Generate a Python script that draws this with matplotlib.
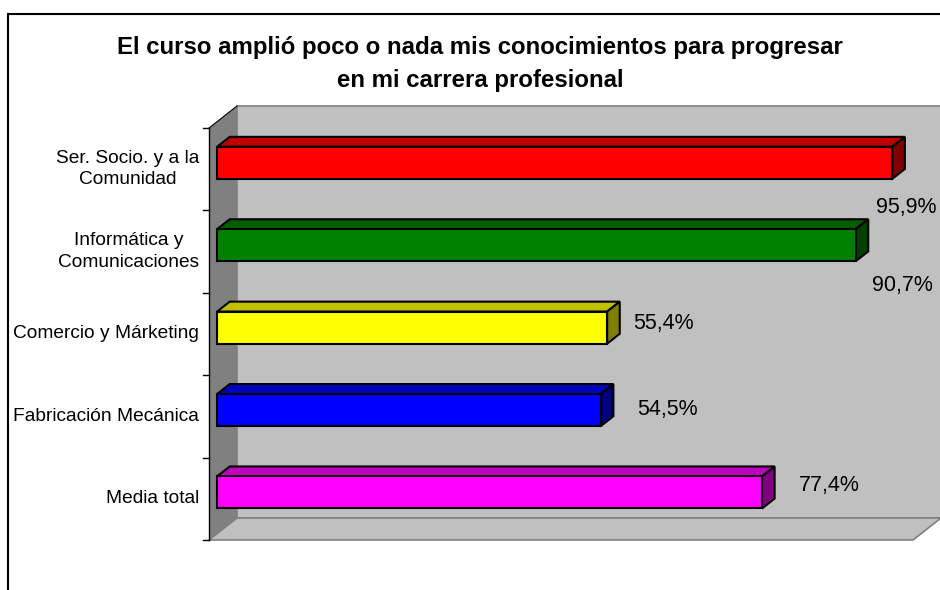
import matplotlib
matplotlib.use("Agg")
import matplotlib.pyplot as plt
from matplotlib.patches import Polygon
from matplotlib.lines import Line2D

plt.rcParams['font.family'] = ['Liberation Sans', 'DejaVu Sans']

# data, top to bottom as in the chart
categories = ["Ser. Socio. y a la\nComunidad", "Informática y\nComunicaciones",
              "Comercio y Márketing", "Fabricación Mecánica", "Media total"]
values = [95.9, 90.7, 55.4, 54.5, 77.4]
value_labels = ["95,9%", "90,7%", "55,4%", "54,5%", "77,4%"]
front_colors = ["#FF0000", "#008000", "#FFFF00", "#0000FF", "#FF00FF"]
top_colors = ["#C00000", "#006000", "#C0C000", "#0000C0", "#C000C0"]
side_colors = ["#800000", "#004000", "#808000", "#000080", "#800080"]
title = "El curso amplió poco o nada mis conocimientos para progresar\nen mi carrera profesional"

# label nudges (pixels) relative to the bar end, as moved by hand in the original
label_offsets = [(-8, -38), (24, -34), (34, 11), (44, 7), (45, 13)]

W, H = 940, 590
fig = plt.figure(figsize=(W / 100, H / 100), dpi=100)

# front plane of the 3d box: x 209..913 px, y 128..540 px
left, right, top, bottom = 209, 913, 128, 540
ax = fig.add_axes([left / W, (H - bottom) / H, (right - left) / W, (bottom - top) / H])
ax.set_xlim(0, 100)
ax.set_ylim(-0.5, 4.5)
ax.axis('off')

px_x = (right - left) / 100.0
px_y = (bottom - top) / 5.0
DX = 28 / px_x      # depth of the box in data units
DY = 22 / px_y

wall_gray = "#C0C0C0"
edge_gray = "#808080"

# back wall
ax.add_patch(Polygon([(DX, -0.5 + DY), (100 + DX, -0.5 + DY), (100 + DX, 4.5 + DY), (DX, 4.5 + DY)],
                     closed=True, facecolor=wall_gray, edgecolor=edge_gray, lw=1.2,
                     clip_on=False, zorder=1))
# floor
ax.add_patch(Polygon([(0, -0.5), (100, -0.5), (100 + DX, -0.5 + DY), (DX, -0.5 + DY)],
                     closed=True, facecolor=wall_gray, edgecolor=edge_gray, lw=1.2,
                     clip_on=False, zorder=1))
# left wall
ax.add_patch(Polygon([(0, -0.5), (0, 4.5), (DX, 4.5 + DY), (DX, -0.5 + DY)],
                     closed=True, facecolor=edge_gray, edgecolor='none',
                     clip_on=False, zorder=2))
ax.plot([0, 0], [-0.5, 4.5], color='black', lw=1, clip_on=False, zorder=3)
ax.plot([0, DX], [4.5, 4.5 + DY], color='black', lw=0.8, clip_on=False, zorder=3)
for yb in [4.5, 3.5, 2.5, 1.5, 0.5, -0.5]:
    ax.plot([-6 / px_x, 0], [yb, yb], color='black', lw=1, clip_on=False, zorder=3)

# bars: front face at depth f0, back at f1
f0, f1 = 0.29, 0.74
h = 0.39
ypos = [len(categories) - 1 - i for i in range(len(categories))]
for i, (v, y) in enumerate(zip(values, ypos)):
    ax.barh(y + f0 * DY, v, left=f0 * DX, height=h, color=front_colors[i],
            edgecolor='black', lw=1.5, zorder=5, clip_on=False)
    yt = y + h / 2
    yb = y - h / 2
    ax.add_patch(Polygon([(f0 * DX, yt + f0 * DY), (f0 * DX + v, yt + f0 * DY),
                          (f1 * DX + v, yt + f1 * DY), (f1 * DX, yt + f1 * DY)],
                         closed=True, facecolor=top_colors[i], edgecolor='black',
                         lw=1.5, zorder=4, clip_on=False))
    ax.add_patch(Polygon([(f0 * DX + v, yb + f0 * DY), (f0 * DX + v, yt + f0 * DY),
                          (f1 * DX + v, yt + f1 * DY), (f1 * DX + v, yb + f1 * DY)],
                         closed=True, facecolor=side_colors[i], edgecolor='black',
                         lw=1.5, zorder=4, clip_on=False))
    ax.annotate(value_labels[i], xy=(v, y), xytext=label_offsets[i],
                textcoords='offset pixels', ha='left', va='center',
                fontsize=15.5, zorder=6, annotation_clip=False)

# category labels
for lab, y in zip(categories, ypos):
    ax.text(-(left - 199) / px_x, y, lab, ha='right', va='center',
            multialignment='center', fontsize=13.8, linespacing=1.35)

fig.text(480 / W, 1 - 64 / H, title, ha='center', va='center',
         fontsize=17.3, fontweight='bold', linespacing=1.6)

# chart frame (left and top edges visible)
fig.add_artist(Line2D([8 / W, 8 / W], [0, 1 - 14 / H], color='black', lw=1.5))
fig.add_artist(Line2D([8 / W, 1], [1 - 14 / H, 1 - 14 / H], color='black', lw=1.5))

fig.savefig("out.png", dpi=100)
